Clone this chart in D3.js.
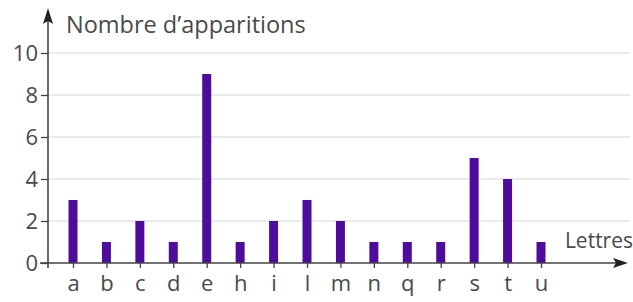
<!DOCTYPE html>
<html><head><meta charset="utf-8">
<script src="https://cdn.jsdelivr.net/npm/d3@7"></script>
<style>body{margin:0;background:#fff}svg{display:block}text{font-family:"Open Sans","Noto Sans",sans-serif;fill:#4a4a4a}</style>
</head><body><svg id="c" width="633" height="302"></svg>
<script>
const letters = ["a","b","c","d","e","h","i","l","m","n","q","r","s","t","u"];
const counts = [3,1,2,1,9,1,2,3,2,1,1,1,5,4,1];
const yTicks = [0,2,4,6,8,10];
const yTitle = "Nombre d\u2019apparitions";
const xTitle = "Lettres";

const svg = d3.select("#c");
const x0 = 48, y0 = 263;
const x = d3.scalePoint().domain(letters).range([73, 541]);
const y = d3.scaleLinear().domain([0,10]).range([y0, 53]);

// grid
svg.append("g").selectAll("line").data(yTicks.filter(d=>d>0)).join("line")
  .attr("x1", x0).attr("x2", 630).attr("y1", d=>y(d)).attr("y2", d=>y(d))
  .attr("stroke", "#d6d6d6").attr("stroke-width", 1);

// y axis
const ya = svg.append("g").attr("transform", `translate(${x0},0)`)
  .call(d3.axisLeft(y).tickValues(yTicks).tickSize(7).tickPadding(3));
ya.select(".domain").remove();
ya.selectAll(".tick line").attr("stroke", "#444").attr("stroke-width", 1.3);
ya.selectAll(".tick text").style("font-size", "22px").attr("fill", "#4a4a4a").attr("dy", "0.36em");

// x axis
const xa = svg.append("g").attr("transform", `translate(0,${y0})`)
  .call(d3.axisBottom(x).tickSize(5).tickPadding(7));
xa.select(".domain").remove();
xa.selectAll(".tick line").attr("stroke", "#444").attr("stroke-width", 1.3);
xa.selectAll(".tick text").style("font-size", "22px").attr("fill", "#4a4a4a");

// bars
svg.append("g").selectAll("rect").data(letters).join("rect")
  .attr("x", d => x(d) - 4.5).attr("width", 9)
  .attr("y", (d,i) => y(counts[i])).attr("height", (d,i) => y0 - y(counts[i]))
  .attr("fill", "#4e0c9c");

// axis lines with arrows
svg.append("line").attr("x1", 40).attr("x2", 618).attr("y1", y0).attr("y2", y0)
  .attr("stroke", "#444").attr("stroke-width", 1.6);
svg.append("path").attr("d", `M628,${y0} L613,${y0-5} L616,${y0} L613,${y0+5} Z`).attr("fill", "#222");
svg.append("line").attr("x1", x0).attr("x2", x0).attr("y1", 268).attr("y2", 20)
  .attr("stroke", "#444").attr("stroke-width", 1.6);
svg.append("path").attr("d", `M${x0},8 L${x0-5},24 L${x0},21 L${x0+5},24 Z`).attr("fill", "#222");

svg.append("text").attr("x", 66).attr("y", 33).style("font-size", "23.5px").text(yTitle);
svg.append("text").attr("x", 633).attr("y", 248).attr("text-anchor", "end").style("font-size", "21px").text(xTitle);
</script></body></html>
